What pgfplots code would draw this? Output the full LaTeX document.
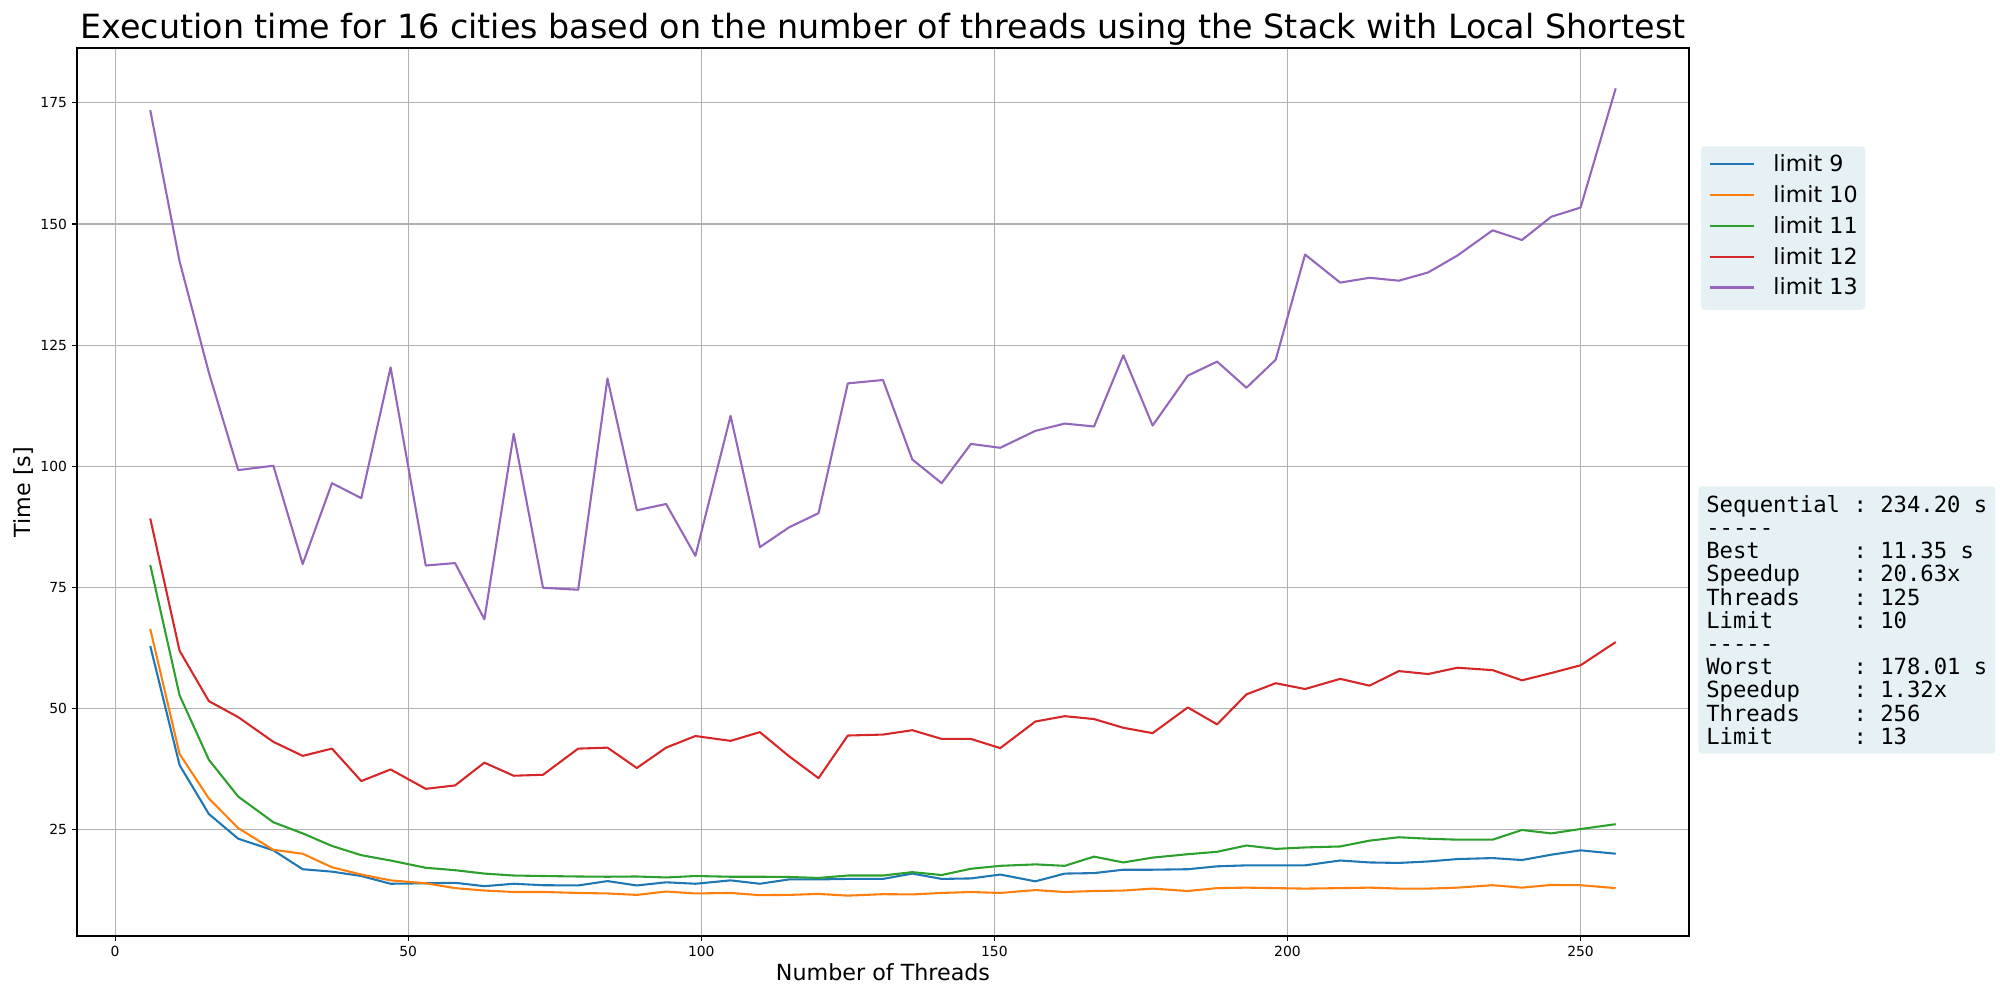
\documentclass[border=0pt]{standalone}
\usepackage{pgfplots}
\pgfplotsset{compat=1.18}
\usepackage{pgfplotstable}
\usepackage{fontspec}
\setmainfont{DejaVu Sans}
\setmonofont{DejaVu Sans Mono}
\definecolor{c0}{HTML}{1F77B4}
\definecolor{c1}{HTML}{FF7F0E}
\definecolor{c2}{HTML}{2CA02C}
\definecolor{c3}{HTML}{D62728}
\definecolor{c4}{HTML}{9467BD}
\definecolor{lb}{RGB}{229,241,245}
\definecolor{gridc}{HTML}{B0B0B0}

\pgfplotstableread{
x    l9    l10   l11   l12   l13
6    62.9  66.4  79.6  89.2  173.5
11   38.3  40.6  52.7  61.9  142.3
16   28.2  31.4  39.4  51.5  119.3
21   23.1  25.3  31.8  48.2  99.2
27   20.7  20.8  26.5  43.1  100.1
32   16.8  20.0  24.2  40.2  79.8
37   16.3  17.2  21.6  41.7  96.5
42   15.4  15.7  19.7  35.0  93.4
47   13.8  14.5  18.6  37.4  120.4
53   13.9  13.9  17.1  33.4  79.5
58   14.0  12.9  16.6  34.1  80.0
63   13.3  12.4  15.9  38.8  68.4
68   13.8  12.1  15.5  36.1  106.7
73   13.5  12.1  15.4  36.3  74.9
79   13.45 11.9  15.3  41.7  74.5
84   14.35 11.8  15.25 41.9  118.1
89   13.45 11.5  15.3  37.7  90.9
94   14.1  12.2  15.1  41.9  92.2
99   13.8  11.8  15.4  44.3  81.5
105  14.5  11.9  15.25 43.3  110.4
110  13.8  11.45 15.25 45.1  83.3
115  14.7  11.5  15.2  40.1  87.4
120  14.7  11.7  15.0  35.6  90.3
125  14.8  11.35 15.5  44.4  117.1
131  14.8  11.65 15.5  44.6  117.8
136  15.9  11.6  16.2  45.5  101.4
141  14.8  11.9  15.6  43.7  96.5
146  14.9  12.1  16.9  43.7  104.6
151  15.7  11.9  17.5  41.8  103.8
157  14.3  12.5  17.8  47.3  107.3
162  15.9  12.1  17.5  48.4  108.8
167  16.0  12.3  19.4  47.8  108.2
172  16.7  12.4  18.2  46.0  122.9
177  16.7  12.8  19.2  44.9  108.4
183  16.8  12.3  19.9  50.2  118.7
188  17.4  12.9  20.4  46.7  121.6
193  17.6  13.0  21.7  52.9  116.2
198  17.6  12.9  21.0  55.2  122.0
203  17.6  12.8  21.3  54.0  143.7
209  18.6  12.9  21.5  56.1  137.9
214  18.2  13.0  22.7  54.7  138.9
219  18.1  12.8  23.4  57.7  138.3
224  18.4  12.8  23.1  57.1  140.0
229  18.9  13.0  22.9  58.4  143.5
235  19.1  13.5  22.9  57.9  148.7
240  18.7  13.0  24.9  55.8  146.7
245  19.8  13.55 24.2  57.3  151.5
250  20.7  13.5  25.1  58.9  153.4
256  20.0  12.9  26.1  63.7  178.01
}\datatable

\begin{document}
\begin{tikzpicture}
\begin{axis}[
  scale only axis, width=1160.64pt, height=639.36pt,
  xmin=-6.5, xmax=268.5, ymin=3.02, ymax=186.34,
  clip=false,
  xtick={0,50,...,250}, ytick={25,50,...,175},
  xtick pos=bottom, ytick pos=left, tick align=outside,
  major tick length=3.5pt,
  tick style={black, line width=0.8pt},
  axis line style={line width=0.8pt},
  grid=major, grid style={gridc, line width=0.8pt},
  /pgf/number format/assume math mode=true,
  ticklabel style={font=\fontsize{10}{12}\selectfont},
  xticklabel style={inner sep=0pt, yshift=-3.5pt},
  yticklabel style={inner sep=0pt, xshift=-3.5pt},
  title={Execution time for 16 cities based on the number of threads using the Stack with Local Shortest},
  title style={at={(axis description cs:0.5,1)}, anchor=base, yshift=1pt, inner sep=0pt, font=\fontsize{24}{28}\selectfont},
  xlabel={Number of Threads},
  xlabel style={at={(axis description cs:0.5,0)}, anchor=base, yshift=-31.7pt, inner sep=0pt, font=\fontsize{16}{19}\selectfont},
  ylabel={Time [s]},
  ylabel style={at={(axis description cs:-0.028536,0.5)}, anchor=base, inner sep=0pt, font=\fontsize{16}{19}\selectfont},
  legend style={at={(axis description cs:1.00726,0.88964)}, anchor=north west,
    fill=lb, draw=none, rounded corners=3pt,
    inner xsep=5.5pt, inner ysep=6.5pt, row sep=6.2pt,
    font=\fontsize{16}{19}\selectfont,
    nodes={inner sep=0pt, text height=11.7pt, text depth=4.3pt, anchor=base west},
    /tikz/every odd column/.append style={column sep=13.2pt}},
  legend cell align=left,
  legend image code/.code={\draw[#1] (0pt,5.3pt) -- (32pt,5.3pt);},
  every axis plot/.append style={line width=1.5pt, line join=round},
]
\addplot[c0] table[x=x, y=l9] {\datatable};
\addlegendentry{limit 9}
\addplot[c1] table[x=x, y=l10] {\datatable};
\addlegendentry{limit 10}
\addplot[c2] table[x=x, y=l11] {\datatable};
\addlegendentry{limit 11}
\addplot[c3] table[x=x, y=l12] {\datatable};
\addlegendentry{limit 12}
\addplot[c4] table[x=x, y=l13] {\datatable};
\addlegendentry{limit 13}
\coordinate (bbsw) at (axis description cs:-0.047767,-0.072072);
\coordinate (bbne) at (axis description cs:1.192928,1.054054);
\coordinate (tbox) at (axis description cs:1.00558,0.50676);
\end{axis}
\node[anchor=north west, fill=lb, rounded corners=3pt, inner xsep=5.8pt, inner ysep=6.5pt, align=left,
  font=\ttfamily\fontsize{16}{16.7}\selectfont] at (tbox)
  {Sequential : 234.20 s\\
   -\kern0pt-\kern0pt-\kern0pt-\kern0pt-\\
   Best~~~~~~~: 11.35 s\\
   Speedup~~~~: 20.63x\\
   Threads~~~~: 125\\
   Limit~~~~~~: 10\\
   -\kern0pt-\kern0pt-\kern0pt-\kern0pt-\\
   Worst~~~~~~: 178.01 s\\
   Speedup~~~~: 1.32x\\
   Threads~~~~: 256\\
   Limit~~~~~~: 13};
\path (bbsw) rectangle (bbne);
\end{tikzpicture}
\end{document}
